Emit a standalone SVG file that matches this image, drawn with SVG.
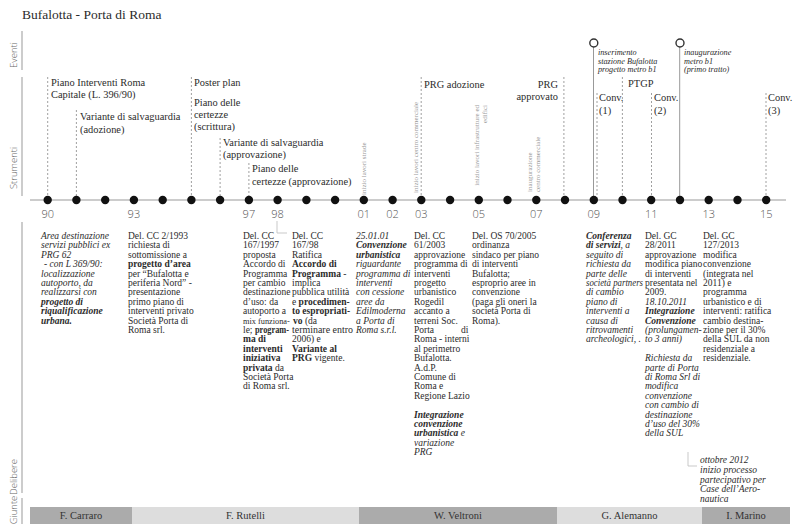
<svg xmlns="http://www.w3.org/2000/svg" width="793" height="524" viewBox="0 0 793 524">
<style>
.t{font-family:"Liberation Serif",serif;fill:#2b2b2b}
.s{font-size:10.4px}
.d{font-size:9.5px}
.e{font-size:8.2px;font-style:italic}
.i{font-style:italic}
.b{font-weight:bold}
.lab{font-family:"Open Sans","DejaVu Sans",sans-serif;font-weight:300;font-size:9.5px;fill:#666;text-anchor:middle}
.yr{font-family:"Open Sans","DejaVu Sans",sans-serif;font-weight:300;font-size:11px;fill:#555;text-anchor:middle}
.rot{font-family:"Liberation Serif",serif;font-size:7px;fill:#999}
.dash{stroke:#888;stroke-width:0.8;stroke-dasharray:2 2;fill:none}
.ev{stroke:#999;stroke-width:1;fill:none}
.bar{stroke:#999;stroke-width:1}
.br{stroke:#bbb;stroke-width:0.8;fill:none}
.g{font-family:"Liberation Serif",serif;font-size:10.5px;fill:#333;text-anchor:middle}
.dk{fill:#ababab}
.lt{fill:#dddddd}
</style>
<rect width="793" height="524" fill="#fff"/>
<text class="t" x="22" y="19" font-size="13.5">Bufalotta - Porta di Roma</text>

<g id="row-labels">
<line class="bar" x1="22" y1="31" x2="22" y2="70"/>
<line class="bar" x1="22" y1="77" x2="22" y2="196"/>
<line class="bar" x1="22" y1="222" x2="22" y2="493"/>
<line class="bar" x1="22" y1="498" x2="22" y2="524"/>
<text class="lab" transform="translate(17,55) rotate(-90)">Eventi</text>
<text class="lab" transform="translate(17,168) rotate(-90)">Strumenti</text>
<text class="lab" transform="translate(17,477) rotate(-90)">Delibere</text>
<text class="lab" transform="translate(17,510) rotate(-90)">Giunte</text>
</g>

<g id="connectors">
<line class="dash" x1="47.7" y1="77" x2="47.7" y2="200"/>
<line class="dash" x1="76.4" y1="110" x2="76.4" y2="200"/>
<line class="dash" x1="191.4" y1="77" x2="191.4" y2="200"/>
<line class="dash" x1="220.1" y1="138" x2="220.1" y2="200"/>
<line class="dash" x1="248.9" y1="163" x2="248.9" y2="200"/>
<line class="dash" x1="421.2" y1="77" x2="421.2" y2="200"/>
<line class="dash" x1="563.9" y1="77" x2="563.9" y2="200"/>
<line class="dash" x1="597" y1="93" x2="597" y2="200"/>
<line class="dash" x1="622.4" y1="77" x2="622.4" y2="200"/>
<line class="dash" x1="651.5" y1="93" x2="651.5" y2="200"/>
<line class="dash" x1="766" y1="93" x2="766" y2="200"/>
<line class="ev" x1="593.5" y1="47" x2="593.5" y2="200"/>
<line class="ev" x1="679.7" y1="47" x2="679.7" y2="200"/>
<path class="br" d="M277 221 V233 H287"/>
<path class="br" d="M688 452 V466 H697"/>
</g>

<g id="timeline">
<line x1="30" y1="200" x2="786" y2="200" stroke="#999" stroke-width="1"/>
<g fill="#111">
<circle cx="47.7" cy="200" r="4.2"/><circle cx="76.4" cy="200" r="4.2"/><circle cx="105.2" cy="200" r="4.2"/><circle cx="133.9" cy="200" r="4.2"/><circle cx="162.7" cy="200" r="4.2"/><circle cx="191.4" cy="200" r="4.2"/><circle cx="220.1" cy="200" r="4.2"/><circle cx="248.9" cy="200" r="4.2"/><circle cx="277.6" cy="200" r="4.2"/><circle cx="306.4" cy="200" r="4.2"/><circle cx="335.1" cy="200" r="4.2"/><circle cx="363.8" cy="200" r="4.2"/><circle cx="392.6" cy="200" r="4.2"/><circle cx="421.3" cy="200" r="4.2"/><circle cx="450.1" cy="200" r="4.2"/><circle cx="478.8" cy="200" r="4.2"/><circle cx="507.5" cy="200" r="4.2"/><circle cx="536.3" cy="200" r="4.2"/><circle cx="565.0" cy="200" r="4.2"/><circle cx="593.8" cy="200" r="4.2"/><circle cx="622.5" cy="200" r="4.2"/><circle cx="651.2" cy="200" r="4.2"/><circle cx="680.0" cy="200" r="4.2"/><circle cx="708.7" cy="200" r="4.2"/><circle cx="737.5" cy="200" r="4.2"/><circle cx="766.2" cy="200" r="4.2"/>
</g>
<text class="yr" x="47.7" y="218">90</text>
<text class="yr" x="133.9" y="218">93</text>
<text class="yr" x="248.9" y="218">97</text>
<text class="yr" x="277.6" y="218">98</text>
<text class="yr" x="363.8" y="218">01</text>
<text class="yr" x="392.6" y="218">02</text>
<text class="yr" x="421.3" y="218">03</text>
<text class="yr" x="478.8" y="218">05</text>
<text class="yr" x="536.3" y="218">07</text>
<text class="yr" x="593.8" y="218">09</text>
<text class="yr" x="651.2" y="218">11</text>
<text class="yr" x="708.7" y="218">13</text>
<text class="yr" x="766.2" y="218">15</text>
</g>

<g id="ev-metro">
<circle cx="593.8" cy="43" r="4" fill="#fff" stroke="#333" stroke-width="1.4"/>
<text class="t e"><tspan x="598" y="55">inserimento</tspan><tspan x="598" dy="8.6">stazione Bufalotta</tspan><tspan x="598" dy="8.6">progetto metro b1</tspan></text>
</g>
<g id="ev-inaugurazione">
<circle cx="680" cy="43" r="4" fill="#fff" stroke="#333" stroke-width="1.4"/>
<text class="t e"><tspan x="684" y="55">inaugurazione</tspan><tspan x="684" dy="8.6">metro b1</tspan><tspan x="684" dy="8.6">(primo tratto)</tspan></text>
</g>

<g id="st-piano-interventi"><text class="t s"><tspan x="51" y="86">Piano Interventi Roma</tspan><tspan x="51" dy="12">Capitale (L. 396/90)</tspan></text></g>
<g id="st-variante-adozione"><text class="t s"><tspan x="80" y="120">Variante di salvaguardia</tspan><tspan x="80" dy="12.5">(adozione)</tspan></text></g>
<g id="st-poster-plan"><text class="t s" x="194" y="86">Poster plan</text></g>
<g id="st-certezze-scrittura"><text class="t s"><tspan x="194" y="106">Piano delle</tspan><tspan x="194" dy="12">certezze</tspan><tspan x="194" dy="12">(scrittura)</tspan></text></g>
<g id="st-variante-approvazione"><text class="t s"><tspan x="223" y="145.5">Variante di salvaguardia</tspan><tspan x="223" dy="12.5">(approvazione)</tspan></text></g>
<g id="st-certezze-approvazione"><text class="t s"><tspan x="252" y="172">Piano delle</tspan><tspan x="252" dy="12.5">certezze (approvazione)</tspan></text></g>
<g id="st-lavori-strade"><text class="rot" transform="translate(366,195) rotate(-90)">inizio lavori strade</text></g>
<g id="st-lavori-centro"><text class="rot" transform="translate(418,193) rotate(-90)">inizio lavori centro commerciale</text></g>
<g id="st-prg-adozione"><text class="t s" x="424" y="88">PRG adozione</text></g>
<g id="st-lavori-infrastrutture"><text class="rot" text-anchor="end" transform="translate(479,105) rotate(-90)"><tspan x="0" y="0">inizio lavori infrastrutture ed</tspan><tspan x="0" y="7.5">edifici</tspan></text></g>
<g id="st-inaugurazione-centro"><text class="rot" transform="translate(532,192) rotate(-90)"><tspan x="0" y="0">inaugurazione</tspan><tspan x="0" y="7.5">centro commerciale</tspan></text></g>
<g id="st-prg-approvato"><text class="t s" text-anchor="end"><tspan x="558" y="88">PRG</tspan><tspan x="558" dy="12">approvato</tspan></text></g>
<g id="st-conv1"><text class="t s"><tspan x="599" y="101">Conv.</tspan><tspan x="599" dy="13">(1)</tspan></text></g>
<g id="st-ptgp"><text class="t s" x="628" y="87">PTGP</text></g>
<g id="st-conv2"><text class="t s"><tspan x="654" y="101">Conv.</tspan><tspan x="654" dy="13">(2)</tspan></text></g>
<g id="st-conv3"><text class="t s"><tspan x="768" y="101">Conv.</tspan><tspan x="768" dy="13">(3)</tspan></text></g>

<g id="del-1990"><text class="t d i">
<tspan x="41" y="239">Area destinazione</tspan>
<tspan x="41" dy="9.4">servizi pubblici ex</tspan>
<tspan x="41" dy="9.4">PRG 62</tspan>
<tspan x="44" dy="9.4">- con L 369/90:</tspan>
<tspan x="41" dy="9.4">localizzazione</tspan>
<tspan x="41" dy="9.4">autoporto, da</tspan>
<tspan x="41" dy="9.4">realizzarsi con</tspan>
<tspan x="41" dy="9.4" class="b">progetto di</tspan>
<tspan x="41" dy="9.4" class="b">riqualificazione</tspan>
<tspan x="41" dy="9.4" class="b">urbana.</tspan>
</text></g>

<g id="del-1993"><text class="t d">
<tspan x="128" y="239">Del. CC 2/1993</tspan>
<tspan x="128" dy="9.4">richiesta di</tspan>
<tspan x="128" dy="9.4">sottomissione a</tspan>
<tspan x="128" dy="9.4" class="b">progetto d’area</tspan>
<tspan x="128" dy="9.4">per “Bufalotta e</tspan>
<tspan x="128" dy="9.4">periferia Nord” -</tspan>
<tspan x="128" dy="9.4">presentazione</tspan>
<tspan x="128" dy="9.4">primo piano di</tspan>
<tspan x="128" dy="9.4">interventi privato</tspan>
<tspan x="128" dy="9.4">Società Porta di</tspan>
<tspan x="128" dy="9.4">Roma srl.</tspan>
</text></g>

<g id="del-1997"><text class="t d">
<tspan x="243" y="239">Del. CC</tspan>
<tspan x="243" dy="9.4">167/1997</tspan>
<tspan x="243" dy="9.4">proposta</tspan>
<tspan x="243" dy="9.4">Accordo di</tspan>
<tspan x="243" dy="9.4">Programma</tspan>
<tspan x="243" dy="9.4">per cambio</tspan>
<tspan x="243" dy="9.4">destinazione</tspan>
<tspan x="243" dy="9.4">d’uso: da</tspan>
<tspan x="243" dy="9.4">autoporto a</tspan>
<tspan x="243" dy="9.4" font-size="8.3">mix funziona-</tspan>
<tspan x="243" dy="9.4">le; </tspan><tspan class="b" x="255" textLength="34" lengthAdjust="spacingAndGlyphs">program-</tspan>
<tspan x="243" dy="9.4" class="b">ma di</tspan>
<tspan x="243" dy="9.4" class="b">interventi</tspan>
<tspan x="243" dy="9.4" class="b">iniziativa</tspan>
<tspan x="243" dy="9.4"><tspan class="b">privata</tspan> da</tspan>
<tspan x="243" dy="9.4">Società Porta</tspan>
<tspan x="243" dy="9.4">di Roma srl.</tspan>
</text></g>

<g id="del-1998"><text class="t d">
<tspan x="292" y="239">Del. CC</tspan>
<tspan x="292" dy="9.4">167/98</tspan>
<tspan x="292" dy="9.4">Ratifica</tspan>
<tspan x="292" dy="9.4" class="b">Accordo di</tspan>
<tspan x="292" dy="9.4"><tspan class="b">Programma</tspan> -</tspan>
<tspan x="292" dy="9.4">implica</tspan>
<tspan x="292" dy="9.4">pubblica utilità</tspan>
<tspan x="292" dy="9.4">e <tspan class="b">procedimen-</tspan></tspan>
<tspan x="292" dy="9.4" class="b">to espropriati-</tspan>
<tspan x="293" dy="9.4"><tspan class="b">vo</tspan> (da</tspan>
<tspan x="292" dy="9.4" textLength="61" lengthAdjust="spacingAndGlyphs">terminare entro</tspan>
<tspan x="292" dy="9.4">2006) e</tspan>
<tspan x="292" dy="9.4" class="b">Variante al</tspan>
<tspan x="292" dy="9.4"><tspan class="b">PRG</tspan> vigente.</tspan>
</text></g>

<g id="del-2001"><text class="t d i">
<tspan x="356" y="239">25.01.01</tspan>
<tspan x="356" dy="9.4" class="b">Convenzione</tspan>
<tspan x="356" dy="9.4" class="b">urbanistica</tspan>
<tspan x="356" dy="9.4">riguardante</tspan>
<tspan x="356" dy="9.4">programma di</tspan>
<tspan x="356" dy="9.4">interventi</tspan>
<tspan x="356" dy="9.4">con cessione</tspan>
<tspan x="356" dy="9.4">aree da</tspan>
<tspan x="356" dy="9.4">Edilmoderna</tspan>
<tspan x="356" dy="9.4">a Porta di</tspan>
<tspan x="356" dy="9.4">Roma s.r.l.</tspan>
</text></g>

<g id="del-2003"><text class="t d">
<tspan x="414" y="239">Del. CC</tspan>
<tspan x="414" dy="9.4">61/2003</tspan>
<tspan x="414" dy="9.4">approvazione</tspan>
<tspan x="414" dy="9.4">programma di</tspan>
<tspan x="414" dy="9.4">interventi</tspan>
<tspan x="414" dy="9.4">progetto</tspan>
<tspan x="414" dy="9.4">urbanistico</tspan>
<tspan x="414" dy="9.4">Rogedil</tspan>
<tspan x="414" dy="9.4">accanto a</tspan>
<tspan x="414" dy="9.4">terreni Soc.</tspan>
<tspan x="414" dy="9.4">Porta</tspan><tspan x="461">di</tspan>
<tspan x="414" dy="9.4">Roma - interni</tspan>
<tspan x="414" dy="9.4">al perimetro</tspan>
<tspan x="414" dy="9.4">Bufalotta.</tspan>
<tspan x="414" dy="9.4">A.d.P.</tspan>
<tspan x="414" dy="9.4">Comune di</tspan>
<tspan x="414" dy="9.4">Roma e</tspan>
<tspan x="414" dy="9.4">Regione Lazio</tspan>
<tspan x="414" dy="18.8" class="b i">Integrazione</tspan>
<tspan x="414" dy="9.4" class="b i">convenzione</tspan>
<tspan x="414" dy="9.4" class="i"><tspan class="b">urbanistica</tspan> e</tspan>
<tspan x="414" dy="9.4" class="i">variazione</tspan>
<tspan x="414" dy="9.4" class="i">PRG</tspan>
</text></g>

<g id="del-2005"><text class="t d">
<tspan x="472" y="239">Del. OS 70/2005</tspan>
<tspan x="472" dy="9.4">ordinanza</tspan>
<tspan x="472" dy="9.4">sindaco per piano</tspan>
<tspan x="472" dy="9.4">di interventi</tspan>
<tspan x="472" dy="9.4">Bufalotta;</tspan>
<tspan x="472" dy="9.4">esproprio aree in</tspan>
<tspan x="472" dy="9.4">convenzione</tspan>
<tspan x="472" dy="9.4">(paga gli oneri la</tspan>
<tspan x="472" dy="9.4">società Porta di</tspan>
<tspan x="472" dy="9.4">Roma).</tspan>
</text></g>

<g id="del-2009"><text class="t d i">
<tspan x="586" y="239" class="b">Conferenza</tspan>
<tspan x="586" dy="9.4"><tspan class="b">di servizi</tspan>, a</tspan>
<tspan x="586" dy="9.4">seguito di</tspan>
<tspan x="586" dy="9.4">richiesta da</tspan>
<tspan x="586" dy="9.4">parte delle</tspan>
<tspan x="586" dy="9.4" textLength="57" lengthAdjust="spacingAndGlyphs">società partners</tspan>
<tspan x="586" dy="9.4">di cambio</tspan>
<tspan x="586" dy="9.4">piano di</tspan>
<tspan x="586" dy="9.4">interventi a</tspan>
<tspan x="586" dy="9.4">causa di</tspan>
<tspan x="586" dy="9.4">ritrovamenti</tspan>
<tspan x="586" dy="9.4">archeologici, .</tspan>
</text></g>

<g id="del-2011"><text class="t d">
<tspan x="645" y="239">Del. GC</tspan>
<tspan x="645" dy="9.4">28/2011</tspan>
<tspan x="645" dy="9.4">approvazione</tspan>
<tspan x="645" dy="9.4">modifica piano</tspan>
<tspan x="645" dy="9.4">di interventi</tspan>
<tspan x="645" dy="9.4">presentata nel</tspan>
<tspan x="645" dy="9.4">2009.</tspan>
<tspan x="645" dy="9.4" class="i">18.10.2011</tspan>
<tspan x="645" dy="9.4" class="b i">Integrazione</tspan>
<tspan x="645" dy="9.4" class="b i">Convenzione</tspan>
<tspan x="645" dy="9.4" class="i">(prolungamen-</tspan>
<tspan x="645" dy="9.4" class="i">to 3 anni)</tspan>
<tspan x="645" dy="18.8" class="i">Richiesta da</tspan>
<tspan x="645" dy="9.4" class="i">parte di Porta</tspan>
<tspan x="645" dy="9.4" class="i">di Roma Srl di</tspan>
<tspan x="645" dy="9.4" class="i">modifica</tspan>
<tspan x="645" dy="9.4" class="i">convenzione</tspan>
<tspan x="645" dy="9.4" class="i">con cambio di</tspan>
<tspan x="645" dy="9.4" class="i">destinazione</tspan>
<tspan x="645" dy="9.4" class="i">d’uso del 30%</tspan>
<tspan x="645" dy="9.4" class="i">della SUL</tspan>
</text></g>

<g id="del-2012"><text class="t d i">
<tspan x="700" y="463">ottobre 2012</tspan>
<tspan x="700" dy="9.8">inizio processo</tspan>
<tspan x="700" dy="9.8">partecipativo per</tspan>
<tspan x="700" dy="9.8">Case dell’Aero-</tspan>
<tspan x="700" dy="9.8">nautica</tspan>
</text></g>

<g id="del-2013"><text class="t d">
<tspan x="703" y="239">Del. GC</tspan>
<tspan x="703" dy="9.4">127/2013</tspan>
<tspan x="703" dy="9.4">modifica</tspan>
<tspan x="703" dy="9.4">convenzione</tspan>
<tspan x="703" dy="9.4">(integrata nel</tspan>
<tspan x="703" dy="9.4">2011) e</tspan>
<tspan x="703" dy="9.4">programma</tspan>
<tspan x="703" dy="9.4">urbanistico e di</tspan>
<tspan x="703" dy="9.4">interventi: ratifica</tspan>
<tspan x="703" dy="9.4">cambio destina-</tspan>
<tspan x="703" dy="9.4">zione per il 30%</tspan>
<tspan x="703" dy="9.4">della SUL da non</tspan>
<tspan x="703" dy="9.4">residenziale a</tspan>
<tspan x="703" dy="9.4">residenziale.</tspan>
</text></g>

<g id="giunta-carraro"><rect class="dk" x="30" y="507" width="102" height="17"/><text class="g" x="81" y="519">F. Carraro</text></g>
<g id="giunta-rutelli"><rect class="lt" x="132" y="507" width="227" height="17"/><text class="g" x="245.5" y="519">F. Rutelli</text></g>
<g id="giunta-veltroni"><rect class="dk" x="359" y="507" width="198" height="17"/><text class="g" x="458" y="519">W. Veltroni</text></g>
<g id="giunta-alemanno"><rect class="lt" x="557" y="507" width="145" height="17"/><text class="g" x="629.5" y="519">G. Alemanno</text></g>
<g id="giunta-marino"><rect class="dk" x="702" y="507" width="88" height="17"/><text class="g" x="746" y="519">I. Marino</text></g>
</svg>
